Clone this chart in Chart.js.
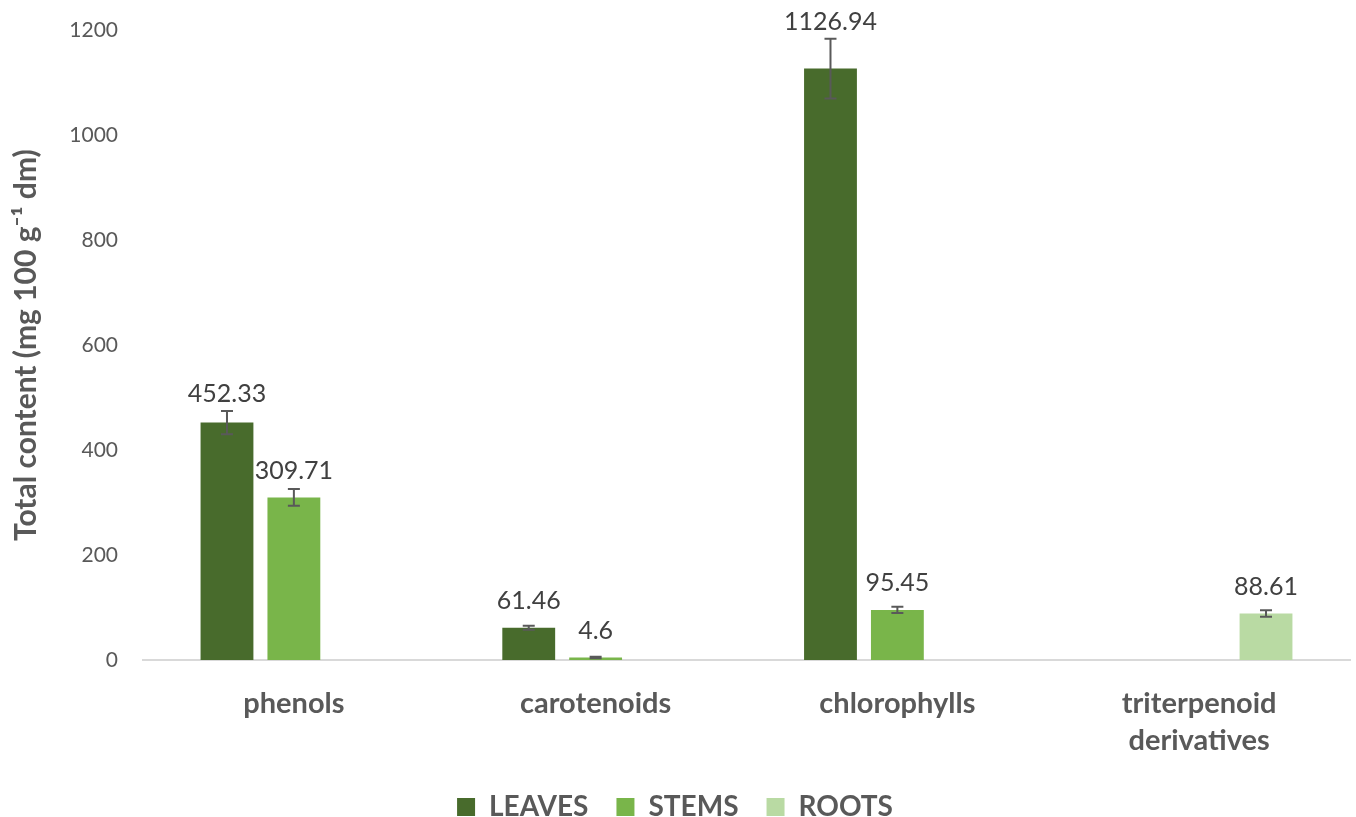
<!DOCTYPE html>
<html>
<head>
<meta charset="utf-8">
<script src="https://cdn.jsdelivr.net/npm/chart.js@4.4.1/dist/chart.umd.min.js"></script>
<style>
  html, body { margin: 0; padding: 0; background: #fff; }
  #wrap { width: 1356px; height: 817px; }
</style>
</head>
<body>
<div id="wrap"><canvas id="grafico" width="1356" height="817"></canvas></div>
<script>
// datos
const categorias = ["phenols", "carotenoids", "chlorophylls", ["triterpenoid", "derivatives"]];
const hojas = [452.33, 61.46, 1126.94, null];
const tallos = [309.71, 4.6, 95.45, null];
const raices = [null, null, null, 88.61];
const errHojas = [22, 4, 57, null];
const errTallos = [16, 1.5, 6, null];
const errRaices = [null, null, null, 6];
const ticksY = [0, 200, 400, 600, 800, 1000, 1200];

const FUENTE = "Lato, 'Open Sans', sans-serif";
const GRIS = "#595959";

// barras de error + etiquetas de valor
const errorBars = {
    id: "errorBars",
    afterDatasetsDraw(chart) {
        const ctx = chart.ctx;
        const y = chart.scales.y;
        chart.data.datasets.forEach((ds, i) => {
            const meta = chart.getDatasetMeta(i);
            meta.data.forEach((bar, j) => {
                const v = ds.data[j];
                if (v === null) return;
                const e = ds.errores[j] || 0;
                const yTop = y.getPixelForValue(v + e);
                const yBot = y.getPixelForValue(v - e);
                ctx.save();
                ctx.strokeStyle = GRIS;
                ctx.lineWidth = 2;
                ctx.beginPath();
                ctx.moveTo(bar.x, yTop);
                ctx.lineTo(bar.x, yBot);
                ctx.moveTo(bar.x - 6, yTop);
                ctx.lineTo(bar.x + 6, yTop);
                ctx.moveTo(bar.x - 6, yBot);
                ctx.lineTo(bar.x + 6, yBot);
                ctx.stroke();

                // etiqueta encima de la barra (o del error si es más alto)
                const yLabel = Math.min(bar.y - 27, yTop - 17);
                ctx.fillStyle = "#404040";
                ctx.font = "25px " + FUENTE;
                ctx.textAlign = "center";
                ctx.textBaseline = "middle";
                ctx.fillText(String(v), bar.x, yLabel);
                ctx.restore();
            });
        });
    }
};

const ctx = document.getElementById("grafico").getContext("2d");
const chart = new Chart(ctx, {
    type: "bar",
    data: {
        labels: categorias,
        datasets: [
            { label: "LEAVES", data: hojas, errores: errHojas, backgroundColor: "#486b2c" },
            { label: "STEMS", data: tallos, errores: errTallos, backgroundColor: "#79b54a" },
            { label: "ROOTS", data: raices, errores: errRaices, backgroundColor: "#b9daa3" }
        ]
    },
    options: {
        responsive: false,
        animation: false,
        categoryPercentage: 0.665,
        barPercentage: 0.79,
        layout: { padding: { top: 6, right: 6, left: 0, bottom: -14 } },
        plugins: {
            legend: {
                position: "bottom",
                labels: {
                    boxWidth: 18,
                    boxHeight: 18,
                    padding: 28,
                    color: GRIS,
                    font: { family: FUENTE, size: 28, weight: "bold" }
                }
            },
            tooltip: { enabled: false }
        },
        scales: {
            x: {
                grid: { display: false },
                border: { display: true, color: "#d9d9d9", width: 2 },
                ticks: {
                    color: GRIS,
                    padding: 17,
                    font: { family: FUENTE, size: 29, weight: "bold", lineHeight: 1.27 }
                },
                afterFit(scale) { scale.height = 105; }
            },
            y: {
                min: 0,
                max: 1200,
                afterBuildTicks(scale) { scale.ticks = ticksY.map(v => ({ value: v })); },
                grid: { display: false, drawTicks: false },
                border: { display: false },
                ticks: {
                    color: GRIS,
                    padding: 25,
                    font: { family: FUENTE, size: 21, lineHeight: 0.5 },
                    callback: v => String(v)
                },
                title: {
                    display: true,
                    text: "Total content (mg 100 g\u207B\u00B9 dm)",
                    color: GRIS,
                    font: { family: FUENTE, size: 30, weight: "bold" },
                    padding: { top: 8, bottom: 10 }
                },
                afterFit(scale) { scale.width = 143; }
            }
        }
    },
    plugins: [errorBars]
});
</script>
</body>
</html>
